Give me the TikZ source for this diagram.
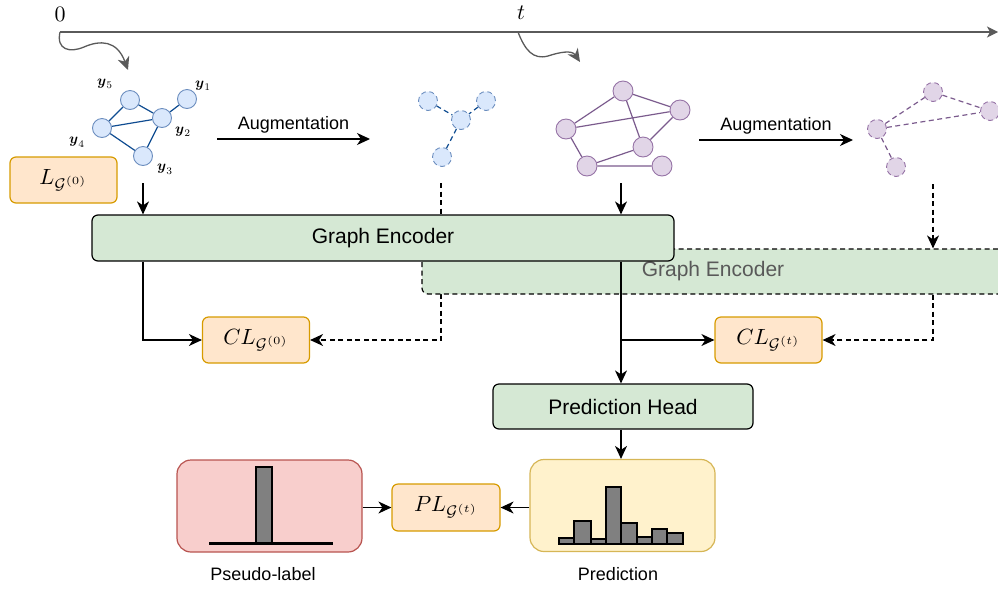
\documentclass[tikz,border=0pt]{standalone}
\usepackage{amsmath}
\usepackage{graphicx}
\usepackage{fontspec}
\newfontfamily\arialfont{Liberation Sans}
\usepackage{xcolor}
\usepackage{tikz}
\usetikzlibrary{arrows.meta}

\definecolor{bluefill}{HTML}{DAE8FC}
\definecolor{bluedraw}{HTML}{6C8EBF}
\definecolor{blueedge}{HTML}{0F4C91}
\definecolor{purplefill}{HTML}{E1D5E7}
\definecolor{purpledraw}{HTML}{9673A6}
\definecolor{purpleedge}{HTML}{7B5B8D}
\definecolor{encfill}{HTML}{D5E8D4}
\definecolor{lossfill}{HTML}{FFE6CC}
\definecolor{lossdraw}{HTML}{D79B00}
\definecolor{pseudofill}{HTML}{F8CECC}
\definecolor{pseudodraw}{HTML}{B85450}
\definecolor{predfill}{HTML}{FFF2CC}
\definecolor{preddraw}{HTML}{D6B656}
\definecolor{axisgray}{HTML}{5A5A5A}

\newcommand{\bigmath}[1]{\scalebox{2.2}{$#1$}}
\newcommand{\ymath}[1]{\scalebox{1.45}{$\boldsymbol{y}_{#1}$}}

\begin{document}
\begin{tikzpicture}[x=1pt,y=-1pt,
    tip/.style={-{Stealth[length=13pt,width=12pt,inset=4pt]}},
    axis/.style={axisgray, line width=1.3pt},
    dash line/.style={dash pattern=on 5pt off 3.5pt},
    bnode/.style={circle, draw=bluedraw, fill=bluefill, line width=0.9pt, inner sep=0pt, minimum size=19pt},
    pnode/.style={circle, draw=purpledraw, fill=purplefill, line width=0.9pt, inner sep=0pt, minimum size=20pt},
    bedge/.style={blueedge, line width=1.2pt},
    pedge/.style={purpleedge, line width=1.2pt},
    txt/.style={font=\arialfont\fontsize{18}{22}\selectfont},
    boxtxt/.style={font=\arialfont\fontsize{21}{25}\selectfont},
    encbox/.style={rectangle, rounded corners=6pt, fill=encfill, draw=black, line width=1.2pt, boxtxt},
    lossbox/.style={rectangle, rounded corners=6pt, fill=lossfill, draw=lossdraw, line width=1.2pt,
        minimum width=107pt, minimum height=46pt},
    bigbox/.style={rectangle, rounded corners=14pt, line width=1.2pt, minimum width=185pt, minimum height=92pt},
    bar/.style={fill=gray, draw=black, line width=1.3pt}]
    \useasboundingbox (0,0) rectangle (998,590);

    % Time axis
    \coordinate (t0) at (60,32);
    \coordinate (tt) at (518,32);
    \coordinate (tend) at (998,32);
    \draw[axis, -{Stealth[length=11pt,width=11pt,inset=3pt]}] (t0) -- (tend);
    \node (zero) at (60,14) {\bigmath{0}};
    \node (tlab) at (521,13) {\bigmath{t}};
    \draw[axis, tip] (t0) .. controls (56,50) and (70,53) .. (84,47) .. controls (100,40) and (117,40) .. (128,70);
    \draw[axis, tip] (tt) .. controls (525,50) and (533,60) .. (548,56) .. controls (560,52) and (572,50) .. (580,62);

    % Graph at time 0
    \node[bnode] (y1) at (187,99) {};
    \node[bnode] (y2) at (162,118) {};
    \node[bnode] (y3) at (143,156) {};
    \node[bnode] (y4) at (102,128) {};
    \node[bnode] (y5) at (130,100) {};
    \draw[bedge] (y5) -- (y2) (y2) -- (y1) (y4) -- (y5) (y4) -- (y2) (y4) -- (y3) (y3) -- (y2);
    \node (l1) at (203,86) {\ymath{1}};
    \node (l2) at (183,132) {\ymath{2}};
    \node (l3) at (165,169) {\ymath{3}};
    \node (l4) at (77,142) {\ymath{4}};
    \node (l5) at (105,84) {\ymath{5}};
    \node[lossbox] (l0) at (63.5,180) {\bigmath{L_{\mathcal{G}^{(0)}}}};

    % Augmented graph at time 0
    \node[bnode, dash line] (ba) at (428,101) {};
    \node[bnode, dash line] (bb) at (486,101) {};
    \node[bnode, dash line] (bc) at (461,120) {};
    \node[bnode, dash line] (bd) at (442,157) {};
    \draw[bedge, dash line] (ba) -- (bc) (bb) -- (bc) (bc) -- (bd);

    % Graph at time t
    \node[pnode] (pa) at (623,91) {};
    \node[pnode] (pb) at (680,110) {};
    \node[pnode] (pc) at (566,129) {};
    \node[pnode] (pd) at (643,147) {};
    \node[pnode] (pe) at (587,166) {};
    \node[pnode] (pf) at (662,166) {};
    \draw[pedge] (pc) -- (pa) (pa) -- (pb) (pc) -- (pb) (pa) -- (pd) (pb) -- (pd)
        (pc) -- (pe) (pe) -- (pd) (pe) -- (pf);

    % Augmented graph at time t
    \node[pnode, dash line, minimum size=19pt] (qa) at (933,92) {};
    \node[pnode, dash line, minimum size=19pt] (qb) at (990,111) {};
    \node[pnode, dash line, minimum size=19pt] (qc) at (877,129) {};
    \node[pnode, dash line, minimum size=19pt] (qd) at (896,167) {};
    \draw[pedge, dash line] (qc) -- (qa) (qa) -- (qb) (qc) -- (qb) (qc) -- (qd);

    % Augmentation arrows
    \coordinate (aug0a) at (217,139);
    \coordinate (aug0b) at (370,139);
    \coordinate (augta) at (699,140);
    \coordinate (augtb) at (853,140);
    \draw[line width=1.2pt, tip] (aug0a) -- (aug0b) node[midway, above=2pt, txt] (augtxt0) {Augmentation};
    \draw[line width=1.2pt, tip] (augta) -- (augtb) node[midway, above=2pt, txt] (augtxtt) {Augmentation};

    % Losses and dashed branch
    \node[lossbox] (cl0) at (256,340) {\bigmath{CL_{\mathcal{G}^{(0)}}}};
    \node[lossbox] (clt) at (768.5,340) {\bigmath{CL_{\mathcal{G}^{(t)}}}};
    \coordinate (in0) at (143,183);
    \coordinate (inb) at (441,183);
    \coordinate (inp) at (621,183);
    \coordinate (inq) at (933,184);
    \draw[line width=1.2pt, dash line, tip] (inb) |- (cl0.east);

    % Encoders
    \node[encbox, dash line, text=black!65, minimum width=582pt, minimum height=45pt] (encb) at (713,271.5) {Graph Encoder};
    \node[encbox, minimum width=582pt, minimum height=46pt] (enc) at (383,238) {Graph Encoder};
    \node[encbox, minimum width=260pt, minimum height=45pt] (head) at (623,406.5) {Prediction Head};

    \draw[line width=1.2pt, tip] (in0) -- (in0 |- enc.north);
    \draw[line width=1.2pt, tip] (in0 |- enc.south) |- (cl0.west);
    \draw[line width=1.2pt, tip] (inp) -- (inp |- enc.north);
    \draw[line width=1.2pt, tip] (inp |- enc.south) -- (inp |- head.north);
    \draw[line width=1.2pt, tip] (inp |- clt.west) -- (clt.west);
    \draw[line width=1.2pt, dash line, tip] (inq) -- (inq |- encb.north);
    \draw[line width=1.2pt, dash line, tip] (inq |- encb.south) |- (clt.east);

    % Pseudo-label and prediction
    \node[bigbox, fill=pseudofill, draw=pseudodraw] (pseudo) at (269.5,506) {};
    \node[bigbox, fill=predfill, draw=preddraw] (pred) at (622.5,505.5) {};
    \node[lossbox, minimum width=108pt, minimum height=47pt] (pl) at (446,507.5) {\bigmath{PL_{\mathcal{G}^{(t)}}}};
    \node[txt] (pseudotxt) at (263,574) {Pseudo-label};
    \node[txt] (predtxt) at (618,574) {Prediction};
    \draw[line width=1.2pt, tip] (inp |- head.south) -- (inp |- pred.north);
    \draw[line width=1.2pt, tip] (pseudo.east |- pl.west) -- (pl.west);
    \draw[line width=1.2pt, tip] (pred.west |- pl.east) -- (pl.east);

    % Histograms
    \draw[bar] (256,467) rectangle (272,543);
    \draw[line width=3pt] (209,543) -- (333,543);
    \foreach \xl/\xr/\top in {559/574/538, 574/591/521, 591/606/539, 606/621/487,
        621/637/523, 637/652/537, 652/667/529, 667/683/533}
        \draw[bar] (\xl,544) rectangle (\xr,\top);
\end{tikzpicture}
\end{document}
